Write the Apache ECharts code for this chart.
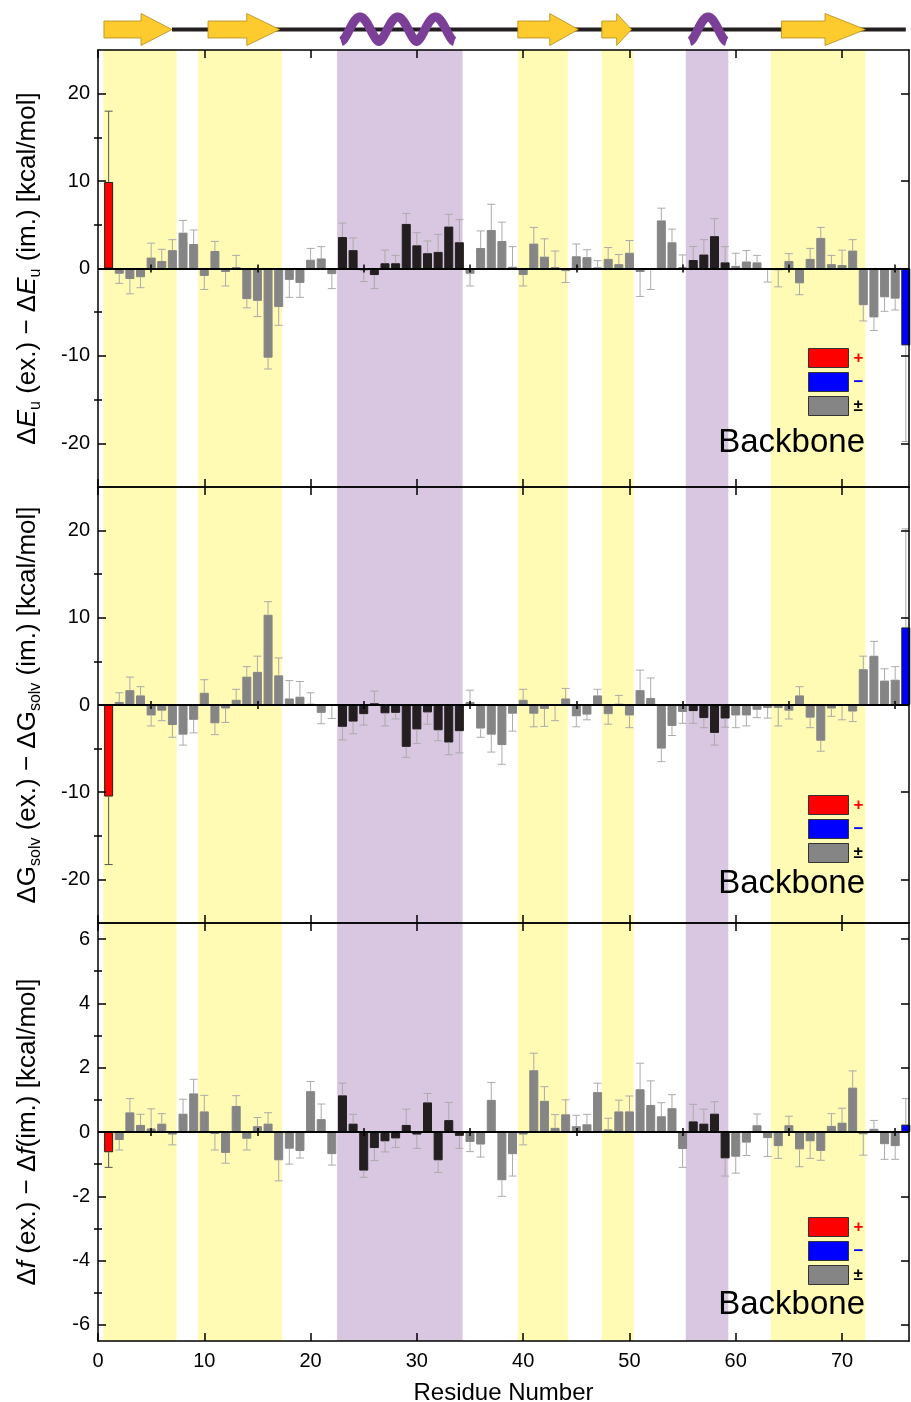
<!DOCTYPE html>
<html>
<head>
<meta charset="utf-8">
<script src="https://cdn.jsdelivr.net/npm/echarts@6/dist/echarts.min.js"></script>
<style>
html, body { margin: 0; padding: 0; background: #fff; }
#main { width: 911px; height: 1402px; }
</style>
</head>
<body>
<div id="main"></div>
<script>
// residue numbers 1..76
const residues = [
  1, 2, 3, 4, 5, 6, 7, 8, 9, 10, 11, 12, 13, 14, 15, 16, 17, 18, 19, 20,
  21, 22, 23, 24, 25, 26, 27, 28, 29, 30, 31, 32, 33, 34, 35, 36, 37, 38, 39, 40,
  41, 42, 43, 44, 45, 46, 47, 48, 49, 50, 51, 52, 53, 54, 55, 56, 57, 58, 59, 60,
  61, 62, 63, 64, 65, 66, 67, 68, 69, 70, 71, 72, 73, 74, 75, 76
];
const positiveResidues = [1];
const negativeResidues = [76];
const helixResidues = [23, 24, 25, 26, 27, 28, 29, 30, 31, 32, 33, 34, 56, 57, 58, 59];

// panel 1: dEu(ex.) - dEu(im.)
const dEu = [
  9.9, -0.6, -1.2, -1.0, 1.25, 0.85, 2.1, 4.1, 2.8, -0.85,
  2.0, -0.4, 0.15, -3.5, -3.7, -10.2, -4.4, -1.3, -1.65, 1.0,
  1.15, -0.65, 3.6, 2.1, -0.2, -0.75, 0.6, 0.6, 5.1, 2.65,
  1.75, 1.9, 4.8, 3.0, -0.6, 2.35, 4.4, 3.15, 0.2, -0.75,
  2.85, 1.35, 0.15, -0.3, 1.4, 1.3, 0.1, 1.1, 0.5, 1.8,
  -0.4, -0.05, 5.5, 3.0, 0.15, 0.97, 1.6, 3.7, 0.7, 0.3,
  0.8, 0.7, -0.05, -0.2, 0.85, -1.7, 1.1, 3.5, 0.5, 0.4,
  2.05, -4.2, -5.6, -3.3, -3.45, -8.8
];
const dEuErr = [
  8.1, 1.1, 1.7, 1.2, 1.65, 1.35, 1.2, 1.4, 1.6, 1.55,
  1.1, 1.6, 1.35, 1.0, 1.8, 1.3, 2.1, 2.0, 1.65, 1.3,
  1.35, 1.65, 1.6, 1.4, 1.3, 1.55, 1.5, 0.9, 1.2, 1.45,
  1.4, 2.0, 1.4, 2.6, 1.4, 1.95, 2.95, 2.15, 2.3, 1.25,
  1.85, 2.05, 1.85, 1.3, 1.4, 0.85, 0.8, 1.3, 1.1, 1.4,
  2.8, 2.35, 1.4, 1.5, 1.4, 1.55, 1.7, 2.0, 1.8, 1.45,
  1.25, 0.8, 1.5, 1.9, 0.85, 1.3, 1.2, 1.2, 1.0, 1.7,
  1.25, 1.8, 1.5, 1.6, 1.3, 11.0
];

// panel 2: dGsolv(ex.) - dGsolv(im.)
const dGsolv = [
  -10.5, 0.35, 1.7, 1.1, -1.2, -0.65, -2.3, -3.4, -1.7, 1.4,
  -2.1, -0.4, 0.6, 3.25, 3.8, 10.35, 3.4, 0.75, 0.95, 0.15,
  -0.9, -0.05, -2.5, -1.9, -1.05, 0.2, -0.95, -0.9, -4.8, -2.8,
  -0.85, -2.9, -4.3, -3.0, 0.35, -2.7, -3.4, -4.6, -1.0, 0.6,
  -1.0, -0.45, -0.05, 0.75, -1.3, -1.1, 1.1, -1.05, 0.15, -1.2,
  1.7, 0.8, -5.0, -2.4, -0.8, -0.7, -1.5, -3.2, -1.55, -1.2,
  -1.2, -0.55, -0.35, -0.35, -0.65, 1.1, -1.45, -4.1, -0.4, -0.1,
  -0.75, 4.1, 5.65, 2.8, 2.9, 8.9
];
const dGsolvErr = [
  7.8, 1.05, 1.5, 1.0, 1.2, 1.15, 1.4, 1.2, 1.5, 1.5,
  1.3, 1.6, 1.2, 1.15, 1.8, 1.5, 2.0, 2.05, 1.75, 1.25,
  1.25, 1.5, 1.5, 1.4, 1.25, 1.4, 1.45, 0.7, 1.2, 1.6,
  1.35, 1.2, 1.4, 2.5, 1.35, 1.0, 2.0, 2.2, 2.0, 1.2,
  1.5, 2.0, 1.75, 1.15, 1.2, 0.6, 0.7, 1.15, 0.95, 1.4,
  2.3, 2.3, 1.5, 1.1, 1.3, 1.4, 1.1, 1.4, 1.0, 1.4,
  1.2, 0.9, 1.15, 2.05, 0.95, 1.0, 1.15, 1.2, 0.9, 1.6,
  1.15, 1.5, 1.65, 1.35, 1.5, 11.3
];

// panel 3: df(ex.) - df(im.)
const dF = [
  -0.63, -0.25, 0.61, 0.22, 0.11, 0.26, -0.08, 0.57, 1.2, 0.64,
  -0.06, -0.65, 0.81, -0.21, 0.18, 0.26, -0.88, -0.52, -0.59, 1.27,
  0.4, -0.69, 1.14, 0.26, -1.2, -0.5, -0.29, -0.2, 0.22, -0.08,
  0.92, -0.88, 0.37, -0.12, -0.31, -0.39, 1.0, -1.5, -0.69, -0.08,
  1.92, 0.97, 0.13, 0.55, 0.18, 0.24, 1.24, 0.08, 0.64, 0.64,
  1.33, 0.84, 0.49, 0.74, -0.53, 0.33, 0.26, 0.57, -0.82, -0.77,
  -0.33, 0.21, -0.19, -0.44, 0.21, -0.54, -0.29, -0.59, 0.19, 0.29,
  1.38, -0.07, 0.1, -0.38, -0.44, 0.23
];
const dFErr = [
  0.47, 0.31, 0.43, 0.33, 0.61, 0.31, 0.32, 0.45, 0.44, 0.5,
  0.5, 0.32, 0.32, 0.35, 0.27, 0.34, 0.64, 0.48, 0.22, 0.3,
  0.47, 0.34, 0.38, 0.29, 0.21, 0.39, 0.33, 0.28, 0.49, 0.43,
  0.28, 0.38, 0.55, 0.39, 0.3, 0.39, 0.54, 0.5, 0.68, 0.32,
  0.53, 0.44, 0.41, 0.45, 0.34, 0.31, 0.28, 0.35, 0.35, 0.48,
  0.81, 0.75, 0.42, 0.42, 0.57, 0.53, 0.45, 0.37, 0.55, 0.51,
  0.4, 0.35, 0.57, 0.38, 0.28, 0.54, 0.53, 0.29, 0.38, 0.45,
  0.52, 0.65, 0.26, 0.47, 0.41, 0.81
];

// secondary structure (residue units)
const strands = [[0.56, 4.05, 6.96], [10.35, 14.0, 17.1], [39.5, 42.5, 45.2], [47.4, 48.8, 50.2], [64.3, 68.4, 72.2]];
const helices = [[22.5, 33.9, 3], [55.3, 59.5, 1]];
const coil = [[6.96, 76.0]];
const strandBands = [[0.5, 7.4], [9.4, 17.3], [39.5, 44.2], [47.4, 50.4], [63.3, 72.2]];
const helixBands = [[22.5, 34.3], [55.3, 59.3]];

// ticks
const xMajorTicks = [0, 10, 20, 30, 40, 50, 60, 70];
const xMinorTicks = [5, 15, 25, 35, 45, 55, 65, 75];
const kcalMajorTicks = [-20, -10, 0, 10, 20];
const kcalMinorTicks = [-15, -5, 5, 15];
const fMajorTicks = [-6, -4, -2, 0, 2, 4, 6];
const fMinorTicks = [-5, -3, -1, 1, 3, 5];

const FONT = '"Liberation Sans", Arial, Helvetica, sans-serif';
const X_MIN = 0, X_MAX = 76.3;
const YELLOW = '#fffab4', PURPLE = '#d9c6e0';

const panels = [
  { top: 50, height: 437, min: -25, max: 25, major: kcalMajorTicks, minor: kcalMinorTicks,
    values: dEu, errs: dEuErr, legendTop: 348, textY: 443,
    name: '{t|Δ}{i|E}{s|u}{t| (ex.) − Δ}{i|E}{s|u}{t| (im.) [kcal/mol]}' },
  { top: 487, height: 436, min: -25, max: 25, major: kcalMajorTicks, minor: kcalMinorTicks,
    values: dGsolv, errs: dGsolvErr, legendTop: 795, textY: 884,
    name: '{t|ΔG}{s|solv}{t| (ex.) − ΔG}{s|solv}{t| (im.) [kcal/mol]}' },
  { top: 923, height: 418, min: -6.5, max: 6.5, major: fMajorTicks, minor: fMinorTicks,
    values: dF, errs: dFErr, legendTop: 1217, textY: 1305,
    name: '{t|Δ}{i|f}{t| (ex.) − Δ}{i|f}{t|(im.) [kcal/mol]}' }
];

const kinds = [
  { key: 'pos', name: '+', color: '#ff0000', border: '#222' },
  { key: 'neg', name: '−', color: '#0000ff', border: '#222' },
  { key: 'neu', name: '±', color: '#858585', border: '#858585' },
  { key: 'hel', name: 'helix', color: '#231f20', border: '#231f20' }
];
function kindOf(r) {
  if (positiveResidues.indexOf(r) >= 0) return 'pos';
  if (negativeResidues.indexOf(r) >= 0) return 'neg';
  if (helixResidues.indexOf(r) >= 0) return 'hel';
  return 'neu';
}

const axisLineStyle = { color: '#000', width: 1.5 };
const frameLine = { show: true, onZero: false, lineStyle: axisLineStyle };
const rich = {
  t: { fontSize: 26, fontFamily: FONT, color: '#000', lineHeight: 32 },
  i: { fontSize: 26, fontFamily: FONT, color: '#000', lineHeight: 32, fontStyle: 'italic' },
  s: { fontSize: 16, fontFamily: FONT, color: '#000', lineHeight: 16, verticalAlign: 'bottom' }
};

const grids = [{ left: 98, right: 2, top: 13, height: 33, outerBoundsMode: 'none' }];
const xAxes = [{ gridIndex: 0, type: 'value', min: X_MIN, max: X_MAX, show: false }];
const yAxes = [{ gridIndex: 0, type: 'value', min: 0, max: 1, show: false }];

// axes sit above the shaded bands (z 10)
function tickAxis(extra, values, len) {
  return Object.assign({
    type: 'value', z: 10, splitLine: { show: false }, axisLine: { show: false },
    axisLabel: { show: false },
    axisTick: { show: true, inside: true, length: len, customValues: values, lineStyle: axisLineStyle }
  }, extra);
}

panels.forEach(function (cfg, p) {
  const gi = p + 1;
  const last = p === panels.length - 1;
  grids.push({ left: 98, right: 2, top: cfg.top, height: cfg.height, outerBoundsMode: 'none' });
  const xb = { gridIndex: gi, min: X_MIN, max: X_MAX };
  xAxes.push(Object.assign(tickAxis(Object.assign({ position: 'bottom' }, xb), xMajorTicks, 8), {
    axisLine: frameLine,
    axisLabel: { show: last, customValues: xMajorTicks, margin: 10, fontSize: 20, color: '#000', fontFamily: FONT },
    name: last ? 'Residue Number' : '', nameLocation: 'middle', nameGap: 40,
    nameTextStyle: { fontSize: 24, fontFamily: FONT, color: '#000' }
  }));
  xAxes.push(tickAxis(Object.assign({ position: 'bottom' }, xb), xMinorTicks, 4));
  xAxes.push(Object.assign(tickAxis(Object.assign({ position: 'top' }, xb), xMajorTicks, 8), { axisLine: frameLine }));
  xAxes.push(tickAxis(Object.assign({ position: 'top' }, xb), xMinorTicks, 4));

  const yb = { gridIndex: gi, min: cfg.min, max: cfg.max };
  yAxes.push(Object.assign(tickAxis(Object.assign({ position: 'left' }, yb), cfg.major, 8), {
    axisLine: frameLine,
    axisLabel: { show: true, customValues: cfg.major, margin: 8, fontSize: 20, color: '#000', fontFamily: FONT },
    name: cfg.name, nameLocation: 'middle', nameRotate: 90, nameGap: 54,
    nameTextStyle: { rich: rich, fontSize: 26, fontFamily: FONT, color: '#000' }
  }));
  yAxes.push(tickAxis(Object.assign({ position: 'left' }, yb), cfg.minor, 4));
  yAxes.push(Object.assign(tickAxis(Object.assign({ position: 'right' }, yb), cfg.major, 8), { axisLine: frameLine }));
  yAxes.push(tickAxis(Object.assign({ position: 'right' }, yb), cfg.minor, 4));
});

function renderError(params, api) {
  const x = api.value(0), v = api.value(1), e = api.value(2);
  const end = v + (v < 0 ? -e : e);
  const a = api.coord([x, v]), b = api.coord([x, end]);
  const stroke = api.value(3) ? '#555' : '#ababab';
  return {
    type: 'group',
    children: [
      { type: 'line', shape: { x1: a[0], y1: a[1], x2: b[0], y2: b[1] }, style: { stroke: stroke, lineWidth: 1 } },
      { type: 'line', shape: { x1: b[0] - 4, y1: b[1], x2: b[0] + 4, y2: b[1] }, style: { stroke: stroke, lineWidth: 1 } }
    ]
  };
}

function renderCoil(params, api) {
  const a = api.coord([api.value(0), 0.5]), b = api.coord([api.value(1), 0.5]);
  return { type: 'line', shape: { x1: a[0], y1: a[1], x2: b[0], y2: b[1] }, style: { stroke: '#231f20', lineWidth: 4 } };
}

function renderStrand(params, api) {
  const s = api.coord([api.value(0), 0.5]), h = api.coord([api.value(1), 0.5]), t = api.coord([api.value(2), 0.5]);
  const cy = s[1];
  return {
    type: 'polygon',
    shape: { points: [[s[0], cy - 8.5], [h[0], cy - 8.5], [h[0], cy - 16], [t[0], cy], [h[0], cy + 16], [h[0], cy + 8.5], [s[0], cy + 8.5]] },
    style: { fill: '#fecb2f', stroke: '#b08a1c', lineWidth: 0.8 }
  };
}

function renderHelix(params, api) {
  const a = api.coord([api.value(0), 0.5]), b = api.coord([api.value(1), 0.5]);
  const n = api.value(2);
  const base = a[1] + 12, top = a[1] - 12.5;
  const pts = [];
  for (let k = 0; k <= 80 * n; k++) {
    const t = k / (80 * n);
    const ph = Math.sin(Math.PI * ((t * n) % 1));
    const y = base - (base - top) * Math.pow(ph, 1.6);
    pts.push([a[0] + 4 + t * (b[0] - a[0] - 8), y]);
  }
  return { type: 'polyline', shape: { points: pts }, style: { stroke: '#7b3f98', lineWidth: 9, fill: null, lineJoin: 'round' } };
}

const series = [
  { type: 'custom', xAxisIndex: 0, yAxisIndex: 0, data: coil, renderItem: renderCoil, z: 1, silent: true },
  { type: 'custom', xAxisIndex: 0, yAxisIndex: 0, data: strands, renderItem: renderStrand, z: 2, silent: true },
  { type: 'custom', xAxisIndex: 0, yAxisIndex: 0, data: helices, renderItem: renderHelix, z: 2, silent: true }
];

panels.forEach(function (cfg, p) {
  const xi = 1 + 4 * p, yi = 1 + 4 * p;
  const areas = strandBands.map(function (b) { return [{ xAxis: b[0], itemStyle: { color: YELLOW } }, { xAxis: b[1] }]; })
    .concat(helixBands.map(function (b) { return [{ xAxis: b[0], itemStyle: { color: PURPLE } }, { xAxis: b[1] }]; }));
  series.push({
    type: 'line', xAxisIndex: xi, yAxisIndex: yi, data: [], z: 1, silent: true,
    markArea: { silent: true, data: areas }
  });
  kinds.forEach(function (k) {
    series.push({
      type: 'bar', name: k.name, xAxisIndex: xi, yAxisIndex: yi, barWidth: 9, barGap: '-100%', z: 2,
      itemStyle: { color: k.color, borderColor: k.border, borderWidth: 1 },
      data: residues.filter(function (r) { return kindOf(r) === k.key; })
        .map(function (r) { return [r, cfg.values[r - 1]]; })
    });
  });
  series.push({
    type: 'custom', xAxisIndex: xi, yAxisIndex: yi, z: 3, silent: true, clip: true,
    renderItem: renderError,
    data: residues.map(function (r, i) { return [r, cfg.values[i], cfg.errs[i], kindOf(r) === 'pos' ? 1 : 0]; }),
    markLine: {
      silent: true, symbol: 'none', label: { show: false },
      lineStyle: { color: '#000', width: 2, type: 'solid' },
      data: [{ yAxis: 0 }]
    }
  });
});

const legends = panels.map(function (cfg) {
  return {
    orient: 'vertical', left: 808, top: cfg.legendTop, padding: 0, itemWidth: 40, itemHeight: 19, itemGap: 4,
    icon: 'rect', selectedMode: false,
    itemStyle: { borderColor: '#333', borderWidth: 1 },
    textStyle: { fontSize: 17, fontWeight: 'bold', fontFamily: FONT },
    data: [
      { name: '+', textStyle: { color: '#ff0000' } },
      { name: '−', textStyle: { color: '#0000ff' } },
      { name: '±', textStyle: { color: '#000' } }
    ]
  };
});

const graphics = panels.map(function (cfg) {
  return {
    type: 'text', z: 100,
    style: { text: 'Backbone', x: 865, y: cfg.textY, align: 'right', verticalAlign: 'middle',
      fontSize: 33, fontFamily: FONT, fill: '#000' }
  };
});

const chart = echarts.init(document.getElementById('main'));
chart.setOption({
  animation: false,
  backgroundColor: '#fff',
  grid: grids,
  xAxis: xAxes,
  yAxis: yAxes,
  legend: legends,
  graphic: graphics,
  series: series
});
</script>
